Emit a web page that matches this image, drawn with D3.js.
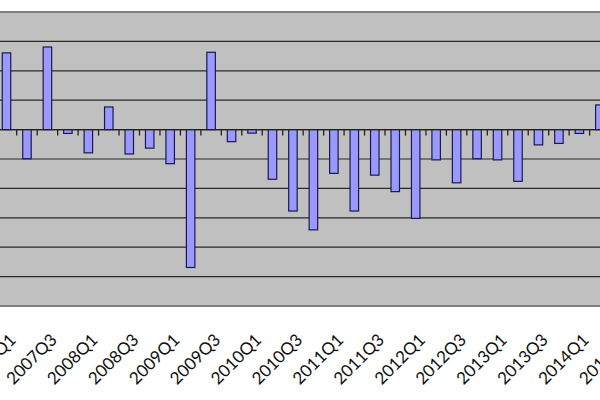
<!DOCTYPE html>
<html>
<head>
<meta charset="utf-8">
<script src="https://cdn.jsdelivr.net/npm/d3@7"></script>
<style>
    body { margin: 0; background: #fff; }
    .label { font-family: Lato, "Open Sans", sans-serif; font-size: 17px; fill: #111; }
</style>
</head>
<body>
<div id="chart"></div>
<script>
// quarters shown on the axis (the chart is cropped, 2014Q3 has only its label in view)
const quarters = ['2007Q1', '2007Q2', '2007Q3', '2007Q4',
    '2008Q1', '2008Q2', '2008Q3', '2008Q4',
    '2009Q1', '2009Q2', '2009Q3', '2009Q4',
    '2010Q1', '2010Q2', '2010Q3', '2010Q4',
    '2011Q1', '2011Q2', '2011Q3', '2011Q4',
    '2012Q1', '2012Q2', '2012Q3', '2012Q4',
    '2013Q1', '2013Q2', '2013Q3', '2013Q4',
    '2014Q1', '2014Q2', '2014Q3'];

// values, in gridline units
const values = [2.61, -0.99, 2.81, -0.13,
    -0.79, 0.77, -0.83, -0.63,
    -1.16, -4.69, 2.63, -0.41,
    -0.12, -1.69, -2.77, -3.41,
    -1.49, -2.77, -1.55, -2.11,
    -3.02, -1.03, -1.81, -0.99,
    -1.03, -1.76, -0.52, -0.47,
    -0.13, 0.84];

const gridValues = [-6, -5, -4, -3, -2, -1, 0, 1, 2, 3, 4];

const width = 600;
const height = 400;
// plot area runs past both edges of the picture
const plot = ({top: 12, bottom: 306, left: -60, right: 660});
const step = 20.46;
const firstCenter = 6.5;

const svg = d3.select('#chart')
    .append('svg')
    .attr('width', width)
    .attr('height', height);

const xScale = d3.scaleBand()
    .domain(quarters)
    .range([firstCenter - step / 2, firstCenter - step / 2 + step * quarters.length])
    .paddingInner(0.585)
    .paddingOuter(0.585 / 2);

const yScale = d3.scaleLinear()
    .domain([-6, 4])
    .range([plot.bottom, plot.top]);

// plot background
svg.append('rect')
    .attr('x', plot.left)
    .attr('y', plot.top)
    .attr('width', plot.right - plot.left)
    .attr('height', plot.bottom - plot.top)
    .style('fill', '#c0c0c0');

// gridlines
svg.selectAll('.grid')
    .data(gridValues)
    .enter()
    .append('line')
    .attr('class', 'grid')
    .attr('x1', plot.left)
    .attr('x2', plot.right)
    .attr('y1', d => yScale(d))
    .attr('y2', d => yScale(d))
    .style('stroke', '#2a2a2a')
    .style('stroke-width', 1.2);

// plot border
svg.append('rect')
    .attr('x', plot.left)
    .attr('y', plot.top)
    .attr('width', plot.right - plot.left)
    .attr('height', plot.bottom - plot.top)
    .style('fill', 'none')
    .style('stroke', '#808080')
    .style('stroke-width', 2);

const data = values.map((v, i) => ({q: quarters[i], v: v}));

svg.selectAll('.bar')
    .data(data)
    .enter()
    .append('rect')
    .attr('class', 'bar')
    .attr('x', d => xScale(d.q))
    .attr('width', xScale.bandwidth())
    .attr('y', d => yScale(Math.max(0, d.v)))
    .attr('height', d => Math.abs(yScale(d.v) - yScale(0)))
    .style('fill', '#9999ff')
    .style('stroke', '#1a1a50')
    .style('stroke-width', 1.2);

// category axis at zero with tick marks between quarters
const zeroY = yScale(0);
svg.append('line')
    .attr('x1', plot.left)
    .attr('x2', plot.right)
    .attr('y1', zeroY)
    .attr('y2', zeroY)
    .style('stroke', '#222')
    .style('stroke-width', 1.2);

const boundaries = quarters.map(q => xScale(q) + xScale.bandwidth() / 2 - xScale.step() / 2);
svg.selectAll('.tick-mark')
    .data(boundaries)
    .enter()
    .append('line')
    .attr('class', 'tick-mark')
    .attr('x1', d => d)
    .attr('x2', d => d)
    .attr('y1', zeroY)
    .attr('y2', zeroY + 6)
    .style('stroke', '#222')
    .style('stroke-width', 1.3);

// every second quarter gets a slanted label
const labelled = quarters.filter((q, i) => i % 2 === 0);
svg.selectAll('.label')
    .data(labelled)
    .enter()
    .append('text')
    .attr('class', 'label')
    .attr('text-anchor', 'end')
    .attr('transform', d => 'translate(' + (xScale(d) + xScale.bandwidth() / 2 + 10.5) + ',341) rotate(-45)')
    .text(d => d);
</script>
</body>
</html>
